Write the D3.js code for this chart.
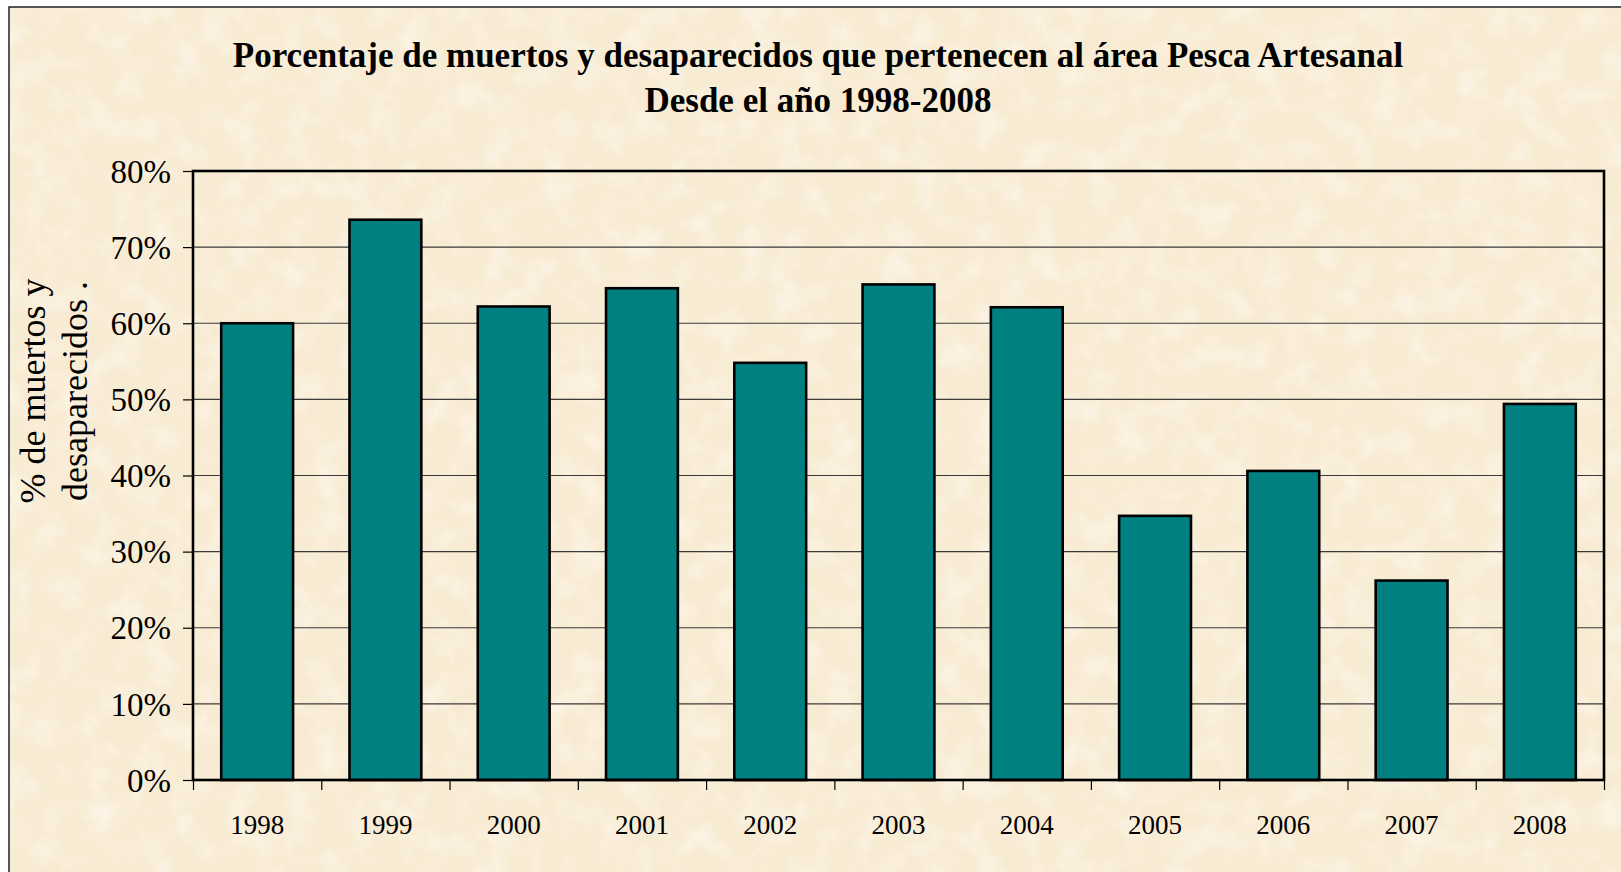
<!DOCTYPE html>
<html lang="es">
<head>
<meta charset="UTF-8">
<title>Pesca Artesanal 1998-2008</title>
<style>
  body { margin: 0; background: #fff; }
  svg { display: block; }
  .axis text { font-family: 'Liberation Serif', 'DejaVu Serif', serif; fill: #000; }
  .axis path { display: none; }
  .axis line { stroke: #000; stroke-width: 1.2; }
</style>
</head>
<body>
<svg id="chart" width="1621" height="872"></svg>
<script src="https://cdn.jsdelivr.net/npm/d3@7/dist/d3.min.js"></script>
<script>
// data
const years = ["1998", "1999", "2000", "2001", "2002", "2003", "2004", "2005", "2006", "2007", "2008"];
const pct   = [60.0, 73.6, 62.2, 64.6, 54.8, 65.1, 62.1, 34.7, 40.6, 26.2, 49.4];
const yTicks = [0, 10, 20, 30, 40, 50, 60, 70, 80];
const titleLines = ["Porcentaje de muertos y desaparecidos que pertenecen al área Pesca Artesanal",
                    "Desde el año 1998-2008"];
const yLabelLines = ["% de muertos y", "desaparecidos ."];

const W = 1621, H = 872;
const plot = { left: 193, right: 1604, top: 171, bottom: 780 };
const serif = "'Liberation Serif', 'DejaVu Serif', serif";

const svg = d3.select("#chart");

// parchment-ish background
const defs = svg.append("defs");
const f = defs.append("filter").attr("id", "paper").attr("x", 0).attr("y", 0).attr("width", "100%").attr("height", "100%");
f.append("feTurbulence").attr("type", "fractalNoise").attr("baseFrequency", 0.035).attr("numOctaves", 5).attr("seed", 3).attr("result", "n");
f.append("feColorMatrix").attr("in", "n").attr("type", "matrix")
  .attr("values", "0 0 0 0 1  0 0 0 0 0.99  0 0 0 0 0.95  0 0 0 1.4 -0.6");

svg.append("rect").attr("x", 9).attr("y", 7).attr("width", W).attr("height", H)
  .attr("fill", "#f8ebd3");
svg.append("rect").attr("x", 9).attr("y", 7).attr("width", W).attr("height", H)
  .attr("fill", "#fff").attr("filter", "url(#paper)").attr("opacity", 0.7);
svg.append("rect").attr("x", 9).attr("y", 7).attr("width", W).attr("height", H)
  .attr("fill", "none").attr("stroke", "#222").attr("stroke-width", 1.5);

const x = d3.scaleBand().domain(years).range([plot.left, plot.right])
  .paddingInner(0.44).paddingOuter(0.22);
const xEdge = d3.scaleLinear().domain([0, years.length]).range([plot.left, plot.right]);
const y = d3.scaleLinear().domain([0, 80]).range([plot.bottom, plot.top]);

// gridlines
svg.append("g").selectAll("line")
  .data(yTicks.filter(d => d > 0 && d < 80))
  .join("line")
  .attr("x1", plot.left).attr("x2", plot.right)
  .attr("y1", d => y(d)).attr("y2", d => y(d))
  .attr("stroke", "#3a3a3a").attr("stroke-width", 1.2);

// bars
svg.append("g").selectAll("rect")
  .data(years)
  .join("rect")
  .attr("x", d => x(d))
  .attr("y", (d, i) => y(pct[i]))
  .attr("width", x.bandwidth())
  .attr("height", (d, i) => y(0) - y(pct[i]))
  .attr("fill", "#008080")
  .attr("stroke", "#000").attr("stroke-width", 2.6);

// plot frame
svg.append("rect")
  .attr("x", plot.left).attr("y", plot.top)
  .attr("width", plot.right - plot.left).attr("height", plot.bottom - plot.top)
  .attr("fill", "none").attr("stroke", "#000").attr("stroke-width", 2.6);

// y axis
svg.append("g").attr("class", "axis")
  .attr("transform", `translate(${plot.left},0)`)
  .call(d3.axisLeft(y).tickValues(yTicks).tickFormat(d => d + "%").tickSize(10).tickPadding(12))
  .selectAll("text").attr("font-size", 33).attr("dy", "0.34em");

// x axis: ticks at category edges, labels at centres
svg.append("g").attr("class", "axis")
  .attr("transform", `translate(0,${plot.bottom})`)
  .call(d3.axisBottom(xEdge).tickValues(d3.range(years.length + 1)).tickFormat("").tickSize(10));
svg.append("g").attr("class", "axis")
  .attr("transform", `translate(0,${plot.bottom})`)
  .call(d3.axisBottom(x).tickSize(0).tickPadding(40))
  .selectAll("text").attr("font-size", 27).attr("dy", "0.5em");

// title
const title = svg.append("g").attr("font-family", serif).attr("font-weight", "bold").attr("text-anchor", "middle");
title.selectAll("text").data(titleLines).join("text")
  .attr("x", 818).attr("y", (d, i) => 67 + i * 45)
  .attr("font-size", 35)
  .text(d => d);

// y axis title
svg.append("g").attr("transform", "translate(0,391) rotate(-90)")
  .selectAll("text").data(yLabelLines).join("text")
  .attr("x", 0).attr("y", (d, i) => 45 + i * 42)
  .attr("text-anchor", "middle")
  .attr("font-family", serif).attr("font-size", 36)
  .text(d => d);
</script>
</body>
</html>
